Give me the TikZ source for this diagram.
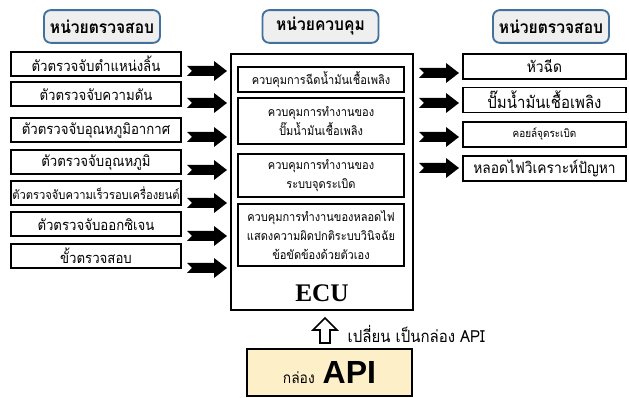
\documentclass[tikz,border=0pt]{standalone}
\usepackage{fontspec}
\usetikzlibrary{positioning}
\newfontfamily\thaifont[Script=Thai, FakeStretch=0.9]{Loma}
\newfontfamily\ecufont{Liberation Serif}
\newfontfamily\apifont{Liberation Sans}
\definecolor{headblue}{HTML}{41719C}
\definecolor{headgray}{HTML}{EFEFEF}
\definecolor{apiyellow}{HTML}{FDF0C8}

\begin{document}
\begin{tikzpicture}[x=0.75pt, y=-0.75pt,
    headbox/.style={draw=headblue, line width=1.4pt, rounded corners=5pt, fill=headgray,
      minimum width=87pt, minimum height=24.5pt, inner sep=0pt,
      font=\thaifont\bfseries\fontsize{13}{15}\selectfont},
    sensbox/.style={draw, line width=1.5pt, minimum width=127.5pt, minimum height=18pt,
      inner sep=0pt},
    ctrlbox/.style={draw, line width=1.5pt, minimum width=124.5pt, inner sep=0pt,
      align=center, font=\thaifont\fontsize{9.2}{14.6}\selectfont},
    outbox/.style={draw, line width=1.2pt, minimum width=122.5pt, minimum height=19pt,
      inner sep=0pt, font=\thaifont\fontsize{11.5}{14}\selectfont},
    fatarrow/.pic={\fill (0,-5) -- (27,-5) -- (27,-10) -- (40,0) -- (27,10) -- (27,5)
      -- (0,5) -- (5,0) -- cycle;}]
\useasboundingbox (0,0) rectangle (629,398);

% headers
\node[headbox] (hsens) at (102,26.5) {หน่วยตรวจสอบ};
\node[headbox] (hctrl) at (320.5,26.5) {หน่วยควบคุม};
\node[headbox] (hout) at (551,26.5) {หน่วยตรวจสอบ};

% sensors
\foreach \y/\t/\fs [count=\i] in {64/{ตัวตรวจจับตำแหน่งลิ้น}/11,
    94.5/{ตัวตรวจจับความดัน}/11, 130.5/{ตัวตรวจจับอุณหภูมิอากาศ}/11,
    162.5/{ตัวตรวจจับอุณหภูมิ}/11, 193/{ตัวตรวจจับความเร็วรอบเครื่องยนต์}/9.3,
    224.5/{ตัวตรวจจับออกซิเจน}/11, 256/{ขั้วตรวจสอบ}/11}
  \node[sensbox, font=\thaifont\fontsize{\fs}{14}\selectfont] (s\i) at (96,\y) {\t};

% ECU
\node[draw, line width=1.5pt, minimum width=136.5pt, minimum height=192pt] (ecu) at (322,182) {};
\node[ctrlbox, minimum height=18.5pt] (c1) at (321,79.5) {ควบคุมการฉีดน้ำมันเชื้อเพลิง};
\node[ctrlbox, minimum height=34.5pt] (c2) at (321,121) {ควบคุมการทำงานของ\\ปั๊มน้ำมันเชื้อเพลิง};
\node[ctrlbox, minimum height=32pt] (c3) at (321,175.5) {ควบคุมการทำงานของ\\ระบบจุดระเบิด};
\node[ctrlbox, minimum height=46.5pt] (c4) at (321,235) {ควบคุมการทำงานของหลอดไฟ\\แสดงความผิดปกติระบบวินิจฉัย\\ข้อขัดข้องด้วยตัวเอง};
\node[font=\ecufont\bfseries\fontsize{19}{22}\selectfont] (ecutext) at (322,293) {ECU};

% outputs
\node[outbox] (o1) at (544.5,66.5) {หัวฉีด};
\node[outbox, font=\thaifont\fontsize{12.5}{15}\selectfont] (o2) at (544.5,100) {ปั๊มน้ำมันเชื้อเพลิง};
\node[outbox, font=\thaifont\fontsize{8.3}{12}\selectfont] (o3) at (544.5,134.5) {คอยล์จุดระเบิด};
\node[outbox] (o4) at (544.5,168.5) {หลอดไฟวิเคราะห์ปัญหา};

% arrows
\foreach \y in {71,103,137,170,203,236,268}
  \pic at (187,\y) {fatarrow};
\foreach \y in {73,103,137,168}
  \pic at (419,\y) {fatarrow};

% API box
\node[draw, line width=1.5pt, fill=apiyellow, minimum width=124pt, minimum height=35.5pt,
  inner sep=0pt] (api) at (329.5,372.5)
  {\thaifont\fontsize{11.5}{12}\selectfont กล่อง\hspace{6pt}\apifont\bfseries\fontsize{24}{28}\selectfont API};
\draw[line width=1.3pt, fill=white] (320,343) -- (320,330) -- (313,330) -- (325,318)
  -- (337,330) -- (330,330) -- (330,343) -- cycle;
\node[anchor=west, font=\thaifont\fontsize{12.5}{13}\selectfont] (note) at (343,334) {เปลี่ยน เป็นกล่อง API};
\end{tikzpicture}
\end{document}
